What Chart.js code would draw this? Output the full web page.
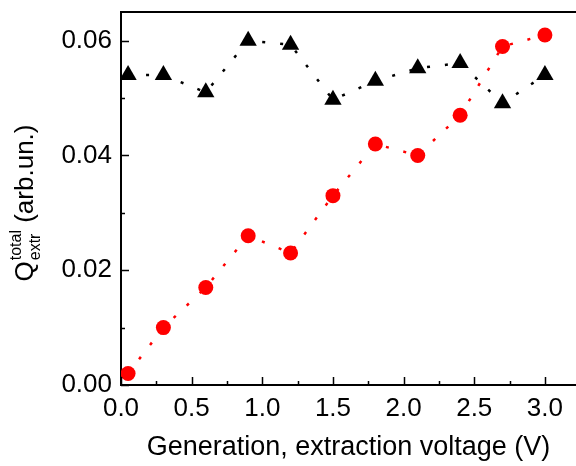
<!DOCTYPE html>
<html>
<head>
<meta charset="utf-8">
<script src="https://cdn.jsdelivr.net/npm/chart.js@4/dist/chart.umd.min.js"></script>
<style>
  html, body { margin: 0; padding: 0; background: #fff; }
  #wrap { width: 576px; height: 466px; }
</style>
</head>
<body>
<div id="wrap"><canvas id="qchart" width="576" height="466"></canvas></div>
<script>
// generation / extraction voltage (V)
const voltage = [0.05, 0.3, 0.6, 0.9, 1.2, 1.5, 1.8, 2.1, 2.4, 2.7, 3.0];
// red circles
const qCircles = [0.002, 0.010, 0.017, 0.026, 0.023, 0.033, 0.042, 0.040, 0.047, 0.059, 0.061];
// black triangles
const qTriangles = [0.0540, 0.0540, 0.0510, 0.0600, 0.0593, 0.0497, 0.0530, 0.0552, 0.0561, 0.0491, 0.0540];
const xTicks = [0, 0.5, 1.0, 1.5, 2.0, 2.5, 3.0];
const yTicks = [0, 0.02, 0.04, 0.06];

const FONT = '"Liberation Sans", Arial, sans-serif';

const toPoints = ys => ys.map((y, i) => ({ x: voltage[i], y: y }));

// no auto padding for edge labels, keep plot box where it is
const noPad = s => { s.paddingTop = 0; s.paddingBottom = 0; s.paddingLeft = 0; s.paddingRight = 0; };

// inward tick marks + top frame line + y title
const frame = {
  id: 'frame',
  afterDraw(chart) {
    const { ctx, chartArea } = chart;
    const xs = chart.scales.x, ys = chart.scales.y;
    ctx.save();
    ctx.strokeStyle = '#000';
    ctx.lineWidth = 2;
    ctx.beginPath();
    ctx.moveTo(chartArea.left - 1, chartArea.top);
    ctx.lineTo(chartArea.right, chartArea.top);
    ctx.stroke();
    ctx.lineWidth = 1.5;
    ctx.beginPath();
    xTicks.forEach(v => {
      const px = Math.round(xs.getPixelForValue(v)) + 0.5;
      ctx.moveTo(px, chartArea.bottom); ctx.lineTo(px, chartArea.bottom - 8);
      const pm = Math.round(xs.getPixelForValue(v + 0.25)) + 0.5;
      if (v + 0.25 < xs.max) { ctx.moveTo(pm, chartArea.bottom); ctx.lineTo(pm, chartArea.bottom - 4); }
    });
    yTicks.forEach(v => {
      const py = Math.round(ys.getPixelForValue(v)) + 0.5;
      ctx.moveTo(chartArea.left, py); ctx.lineTo(chartArea.left + 8, py);
      const pm = Math.round(ys.getPixelForValue(v + 0.01)) + 0.5;
      if (v + 0.01 < ys.max) { ctx.moveTo(chartArea.left, pm); ctx.lineTo(chartArea.left + 4, pm); }
    });
    ctx.stroke();

    // Q^total_extr (arb.un.)
    ctx.translate(33, (chartArea.top + chartArea.bottom) / 2 + 5);
    ctx.rotate(-Math.PI / 2);
    ctx.fillStyle = '#000';
    ctx.textBaseline = 'alphabetic';
    const big = '26px ' + FONT, small = '16px ' + FONT;
    ctx.font = big;
    const wQ = ctx.measureText('Q').width;
    const wRest = ctx.measureText(' (arb.un.)').width;
    ctx.font = small;
    const wS = Math.max(ctx.measureText('total').width, ctx.measureText('extr').width);
    let x = -(wQ + wS + wRest) / 2;
    ctx.font = big;
    ctx.fillText('Q', x, 0);
    x += wQ + 1;
    ctx.font = small;
    ctx.fillText('total', x, -12);
    ctx.fillText('extr', x, 7);
    x += wS;
    ctx.font = big;
    ctx.fillText(' (arb.un.)', x, 0);
    ctx.restore();
  }
};

new Chart(document.getElementById('qchart'), {
  type: 'scatter',
  data: {
    datasets: [
      {
        data: toPoints(qTriangles),
        showLine: true,
        borderColor: '#000',
        borderWidth: 2.5,
        borderDash: [3, 15],
        pointStyle: 'triangle',
        pointRadius: 10,
        pointBackgroundColor: '#000',
        pointBorderColor: '#000',
        pointBorderWidth: 0
      },
      {
        data: toPoints(qCircles),
        showLine: true,
        borderColor: '#ff0000',
        borderWidth: 2.5,
        borderDash: [3, 15],
        pointStyle: 'circle',
        pointRadius: 7.5,
        pointBackgroundColor: '#ff0000',
        pointBorderColor: '#ff0000',
        pointBorderWidth: 0
      }
    ]
  },
  options: {
    responsive: false,
    animation: false,
    layout: { autoPadding: false, padding: { top: 12, right: 0, left: 0, bottom: 0 } },
    plugins: { legend: { display: false }, tooltip: { enabled: false } },
    scales: {
      x: {
        type: 'linear',
        min: 0,
        max: 3.22,
        afterFit: s => { s.height = 81; noPad(s); },
        grid: { display: false, drawTicks: false },
        border: { display: true, color: '#000', width: 2 },
        ticks: {
          stepSize: 0.5,
          includeBounds: false,
          padding: 8,
          color: '#000',
          font: { family: FONT, size: 26 },
          callback: v => v.toFixed(1)
        },
        title: {
          display: true,
          text: 'Generation, extraction voltage (V)',
          color: '#000',
          font: { family: FONT, size: 27 },
          padding: { top: 0, bottom: 2 }
        }
      },
      y: {
        type: 'linear',
        min: 0,
        max: 0.065,
        afterFit: s => { s.width = 121; noPad(s); },
        grid: { display: false, drawTicks: false },
        border: { display: true, color: '#000', width: 2 },
        ticks: {
          stepSize: 0.02,
          includeBounds: false,
          padding: 9,
          color: '#000',
          font: { family: FONT, size: 26 },
          callback: v => v.toFixed(2)
        }
      }
    }
  },
  plugins: [frame]
});
</script>
</body>
</html>
